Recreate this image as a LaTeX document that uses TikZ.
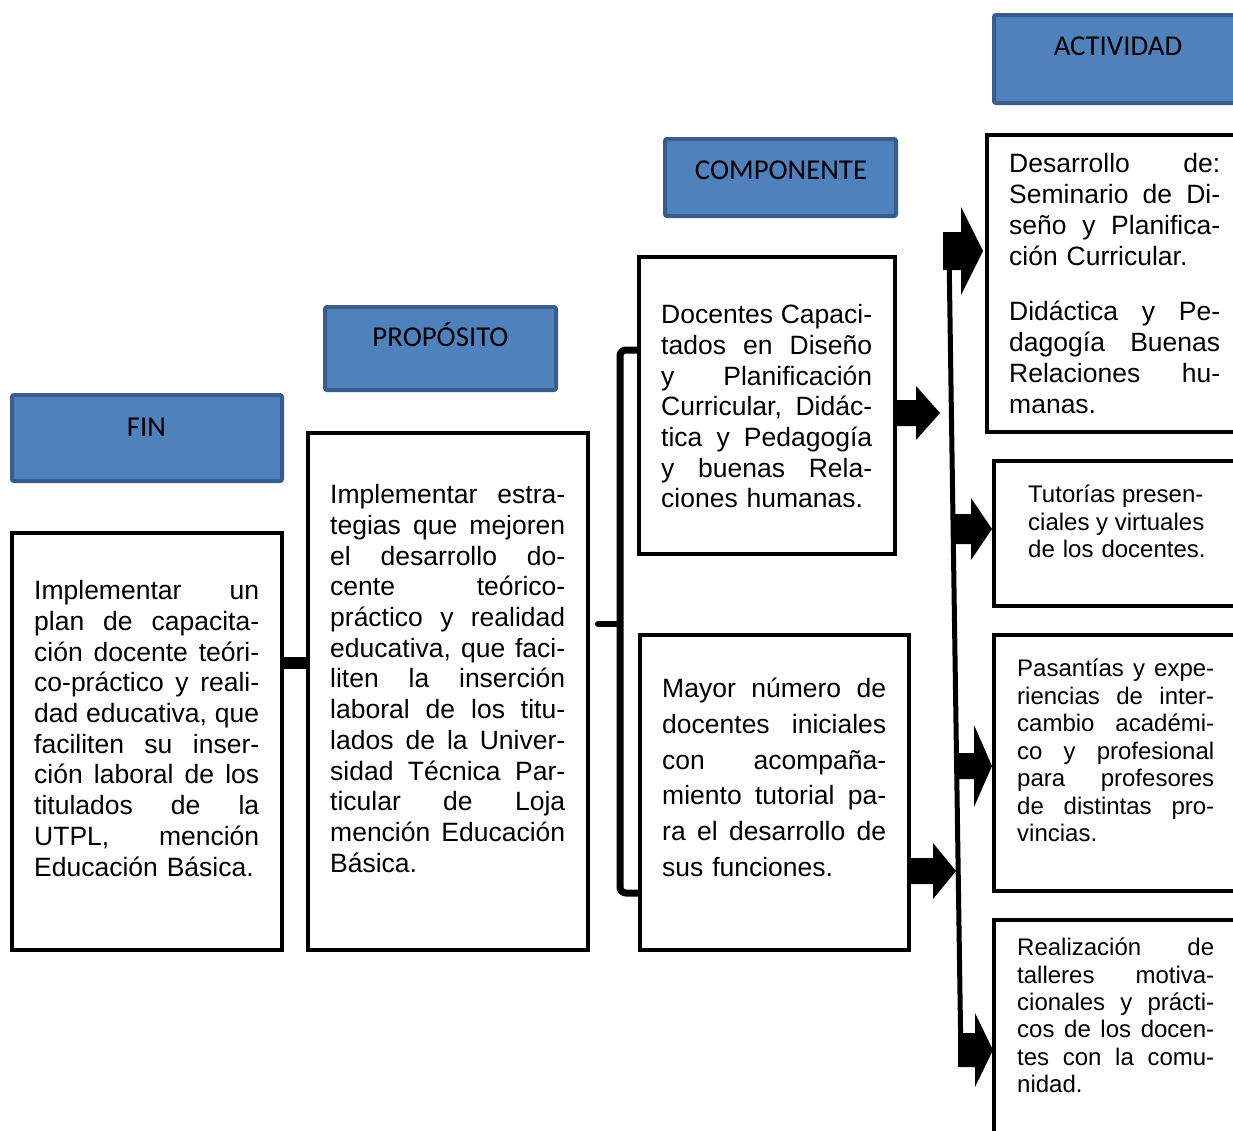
\documentclass[tikz,border=0pt]{standalone}
\usepackage{fontspec}
\setmainfont{Liberation Sans}
\newfontfamily\hdrfont{Carlito}
\usetikzlibrary{calc}
\definecolor{hfill}{HTML}{4F81BD}
\definecolor{hline}{HTML}{385D8A}
\newdimen\mylw
\newcommand\jline[1]{\hbox to \mylw{\spaceskip=.278em plus 1fil\relax\strut#1}\par}
\newcommand\lline[1]{\hbox{\strut#1}\par}
\newcommand\blockarr[6]{%
  \fill (#1,#4-#5) -- (#2,#4-#5) -- (#2,#4-#6) -- (#3,#4) -- (#2,#4+#6) -- (#2,#4+#5) -- (#1,#4+#5) -- cycle;}
\begin{document}
\begin{tikzpicture}[x=1pt,y=-1pt,
  hbox/.style={draw=hline, fill=hfill, line width=4pt, rounded corners=2pt, inner sep=0pt, outer sep=0pt},
  bbox/.style={draw=black, line width=4pt, inner sep=0pt, outer sep=0pt},
  htxt/.style={anchor=base, inner sep=0pt, font=\hdrfont\fontsize{28.8}{34}\selectfont},
  btxt/.style={anchor=north west, inner sep=0pt, align=left, font=\fontsize{26.5}{30.7}\selectfont},
  stxt/.style={anchor=north west, inner sep=0pt, align=left, font=\fontsize{24}{27.5}\selectfont}]
\useasboundingbox (0,0) rectangle (1233,1130);
\clip (0,0) rectangle (1233,1130);
\fill[white] (0,0) rectangle (1233,1130);
% header boxes
\node[hbox, minimum width=270pt, minimum height=86pt] (finH) at (147,438) {};
\node[hbox, minimum width=231pt, minimum height=83pt] (propH) at (440.5,348.5) {};
\node[hbox, minimum width=231pt, minimum height=77pt] (compH) at (780.5,177.5) {};
\node[hbox, minimum width=256pt, minimum height=88pt] (actH) at (1122,59) {};
\node[htxt] (finHt) at (146.5,436) {FIN};
\node[htxt] (propHt) at (440.5,346.5) {PROPÓSITO};
\node[htxt] (compHt) at (781,179) {COMPONENTE};
\node[htxt] (actHt) at (1118,55.5) {ACTIVIDAD};
% body boxes
\node[bbox, minimum width=270pt, minimum height=417pt] (fin) at (147,741.5) {};
\node[bbox, minimum width=280pt, minimum height=517pt] (prop) at (448,691.5) {};
\node[bbox, minimum width=256pt, minimum height=297pt] (comp1) at (767,405.5) {};
\node[bbox, minimum width=269pt, minimum height=315pt] (comp2) at (774.5,792.5) {};
\node[bbox, minimum width=263pt, minimum height=297pt] (act1) at (1118.5,283.5) {};
\node[bbox, minimum width=256pt, minimum height=145pt] (act2) at (1122,533.5) {};
\node[bbox, minimum width=256pt, minimum height=256pt] (act3) at (1122,763) {};
\node[bbox, minimum width=256pt, minimum height=230pt] (act4) at (1122,1035) {};
% texts
\node[btxt, text width=225pt] (finT) at (34,578) {\mylw=225pt\jline{Implementar un}\jline{plan de capacita-}\jline{ción docente teóri-}\jline{co-práctico y reali-}\jline{dad educativa, que}\jline{faciliten su inser-}\jline{ción laboral de los}\jline{titulados de la}\jline{UTPL, mención}\lline{Educación Básica.}};
\node[btxt, text width=235pt] (propT) at (330,482) {\mylw=235pt\jline{Implementar estra-}\jline{tegias que mejoren}\jline{el desarrollo do-}\jline{cente teórico-}\jline{práctico y realidad}\jline{educativa, que faci-}\jline{liten la inserción}\jline{laboral de los titu-}\jline{lados de la Univer-}\jline{sidad Técnica Par-}\jline{ticular de Loja}\jline{mención Educación}\lline{Básica.}};
\node[btxt, text width=211pt] (comp1T) at (661,302) {\mylw=211pt\jline{Docentes Capaci-}\jline{tados en Diseño}\jline{y Planificación}\jline{Curricular, Didác-}\jline{tica y Pedagogía}\jline{y buenas Rela-}\lline{ciones humanas.}};
\node[btxt, text width=224pt, font=\fontsize{26.5}{35.7}\selectfont] (comp2T) at (662,672.5) {\mylw=224pt\jline{Mayor número de}\jline{docentes iniciales}\jline{con acompaña-}\jline{miento tutorial pa-}\jline{ra el desarrollo de}\lline{sus funciones.}};
\node[btxt, text width=211pt, font=\fontsize{26.5}{31}\selectfont] (act1T) at (1009,150.3) {\mylw=211pt\jline{Desarrollo de:}\jline{Seminario de Di-}\jline{seño y Planifica-}\lline{ción Curricular.}\vspace{24.5pt}\jline{Didáctica y Pe-}\jline{dagogía Buenas}\jline{Relaciones hu-}\lline{manas.}};
\node[stxt, text width=175pt] (act2T) at (1028,483.4) {\mylw=175pt\jline{Tutorías presen-}\jline{ciales y virtuales}\lline{de los docentes.}};
\node[stxt, text width=197pt] (act3T) at (1017,657.4) {\mylw=197pt\jline{Pasantías y expe-}\jline{riencias de inter-}\jline{cambio académi-}\jline{co y profesional}\jline{para profesores}\jline{de distintas pro-}\lline{vincias.}};
\node[stxt, text width=197pt, font=\fontsize{24}{27.4}\selectfont] (act4T) at (1017,936.4) {\mylw=197pt\jline{Realización de}\jline{talleres motiva-}\jline{cionales y prácti-}\jline{cos de los docen-}\jline{tes con la comu-}\lline{nidad.}};
% connectors
\coordinate (barc) at (0,663);
\draw[line width=12pt] (fin.east |- barc) -- (prop.west |- barc);
\coordinate (bt) at (0,350);
\coordinate (bb) at (0,893);
\draw[line width=7pt, rounded corners=6pt] (comp1.west |- bt) -- (620,350) -- (620,893) -- (comp2.west |- bb);
\draw[line width=6pt, line cap=round] (620,624) -- (598,624);
\draw[line width=5pt] (949,251) -- (961,1062);
\blockarr{895}{916}{940}{413}{13}{27}
\blockarr{943}{961}{983}{251}{19}{44}
\blockarr{953}{971}{992}{529}{15}{31}
\blockarr{956}{974}{992}{766}{13}{41}
\blockarr{911}{933}{956}{871}{13}{28}
\blockarr{958}{975}{993}{1050}{17}{37}
\end{tikzpicture}
\end{document}
